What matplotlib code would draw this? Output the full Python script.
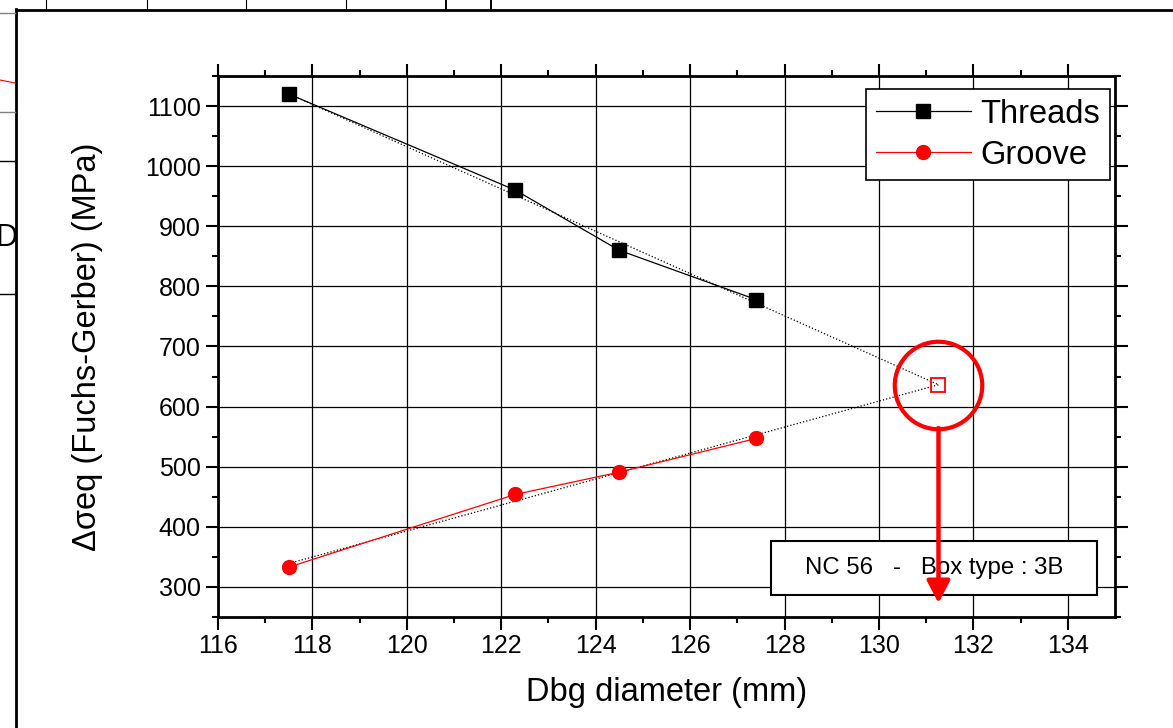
import numpy as np
import matplotlib.pyplot as plt
from matplotlib.lines import Line2D
from matplotlib.patches import Rectangle

plt.rcParams['font.family'] = ['Liberation Sans', 'DejaVu Sans']

# Données
dbg = [117.5, 122.3, 124.5, 127.4]
threads = [1120, 960, 860, 778]
groove = [333, 454, 491, 547]
xticks = list(range(116, 136, 2))
yticks = list(range(300, 1200, 100))
box_text = "NC 56   -   Box type : 3B"

W, H = 1173, 728
fig = plt.figure(figsize=(W / 100, H / 100), dpi=100)


def px(x, y):
    # pixels (origine en haut a gauche) -> fraction de figure
    return x / W, 1 - y / H


def fig_line(x0, y0, x1, y1, **kw):
    a, b = px(x0, y0)
    c, d = px(x1, y1)
    fig.add_artist(Line2D([a, c], [b, d], transform=fig.transFigure, **kw))


# cadre de la page autour du graphique
fig_line(16, 10, W, 10, color='black', lw=2)
fig_line(16, 9, 16, H, color='black', lw=2)
for xx in [46, 147, 246, 346]:
    fig_line(xx, 0, xx, 9, color='black', lw=0.8)
for xx in [446, 491]:
    fig_line(xx, 0, xx, 9, color='black', lw=1.4)
for yy, c in [(13, '0.5'), (112, '0.5'), (161, 'black'), (294, 'black')]:
    fig_line(0, yy, 15, yy, color=c, lw=1)
fig_line(0, 80, 15, 83, color='red', lw=0.8)
fig.text(*px(17, 238), "D", ha='right', va='center', fontsize=22)

ax = fig.add_axes([218 / W, 1 - 617 / H, (1115 - 218) / W, (617 - 76) / H])

# courbes
ax.plot(dbg, threads, '-s', color='black', lw=0.9, ms=9.5, label='Threads', zorder=4)
ax.plot(dbg, groove, '-o', color='red', lw=0.9, ms=10, label='Groove', zorder=4)

# droites de regression prolongees jusqu'a l'intersection
p1 = np.polyfit(dbg, threads, 1)
p2 = np.polyfit(dbg, groove, 1)
xi = (p2[1] - p1[1]) / (p1[0] - p2[0])
yi = np.polyval(p1, xi)
xs = np.array([dbg[0], xi])
ax.plot(xs, np.polyval(p1, xs), ':', color='black', lw=0.9, zorder=3)
ax.plot(xs, np.polyval(p2, xs), ':', color='black', lw=0.9, zorder=3)
ax.plot(xi, yi, 's', ms=10, mfc='none', mec='red', mew=1.3, zorder=5)
ax.plot(xi, yi, 'o', ms=63, mfc='none', mec='red', mew=3, zorder=5)

# boite de texte
ax.add_patch(Rectangle((127.72, 286.7), 6.9, 89.8, facecolor='white',
                       edgecolor='black', lw=1.5, zorder=6))
ax.text(131.17, 331.6, box_text, ha='center', va='center', fontsize=17.3, zorder=7)

# fleche
ax.annotate('', xy=(xi, 273), xytext=(xi, yi - 72),
            arrowprops=dict(arrowstyle='-|>,head_width=0.25,head_length=0.48',
                            color='red', lw=3.2,
                            mutation_scale=28, shrinkA=0, shrinkB=0),
            zorder=8)

ax.set_xlim(116, 135)
ax.set_ylim(250, 1150)
ax.set_xticks(xticks)
ax.set_yticks(yticks)
ax.set_xticks(np.arange(117, 135, 2), minor=True)
ax.set_yticks(np.arange(250, 1200, 100), minor=True)
ax.grid(True, which='major', color='black', lw=0.9)
ax.set_axisbelow(True)
ax.tick_params(which='major', direction='out', length=9, width=1.5, labelsize=18,
               top=True, right=True)
ax.tick_params(which='minor', direction='out', length=4.5, width=1.5,
               top=True, right=True)
for s in ax.spines.values():
    s.set_linewidth(2)

ax.set_xlabel("Dbg diameter (mm)", fontsize=23.5, va='center')
ax.xaxis.set_label_coords(0.5, -0.14)
ax.set_ylabel("Δσeq (Fuchs-Gerber) (MPa)", fontsize=23.5, va='center')
ax.yaxis.set_label_coords(-0.145, 0.5)

leg = ax.legend(loc='upper right', bbox_to_anchor=(1110 / W, 1 - 89 / H),
                bbox_transform=fig.transFigure, fontsize=23.5, fancybox=False,
                edgecolor='black', framealpha=1, handlelength=2.9,
                handletextpad=0.3, borderpad=0.3, labelspacing=0.3,
                borderaxespad=0)
leg.get_frame().set_linewidth(1.2)

plt.savefig('out.png', dpi=100)
